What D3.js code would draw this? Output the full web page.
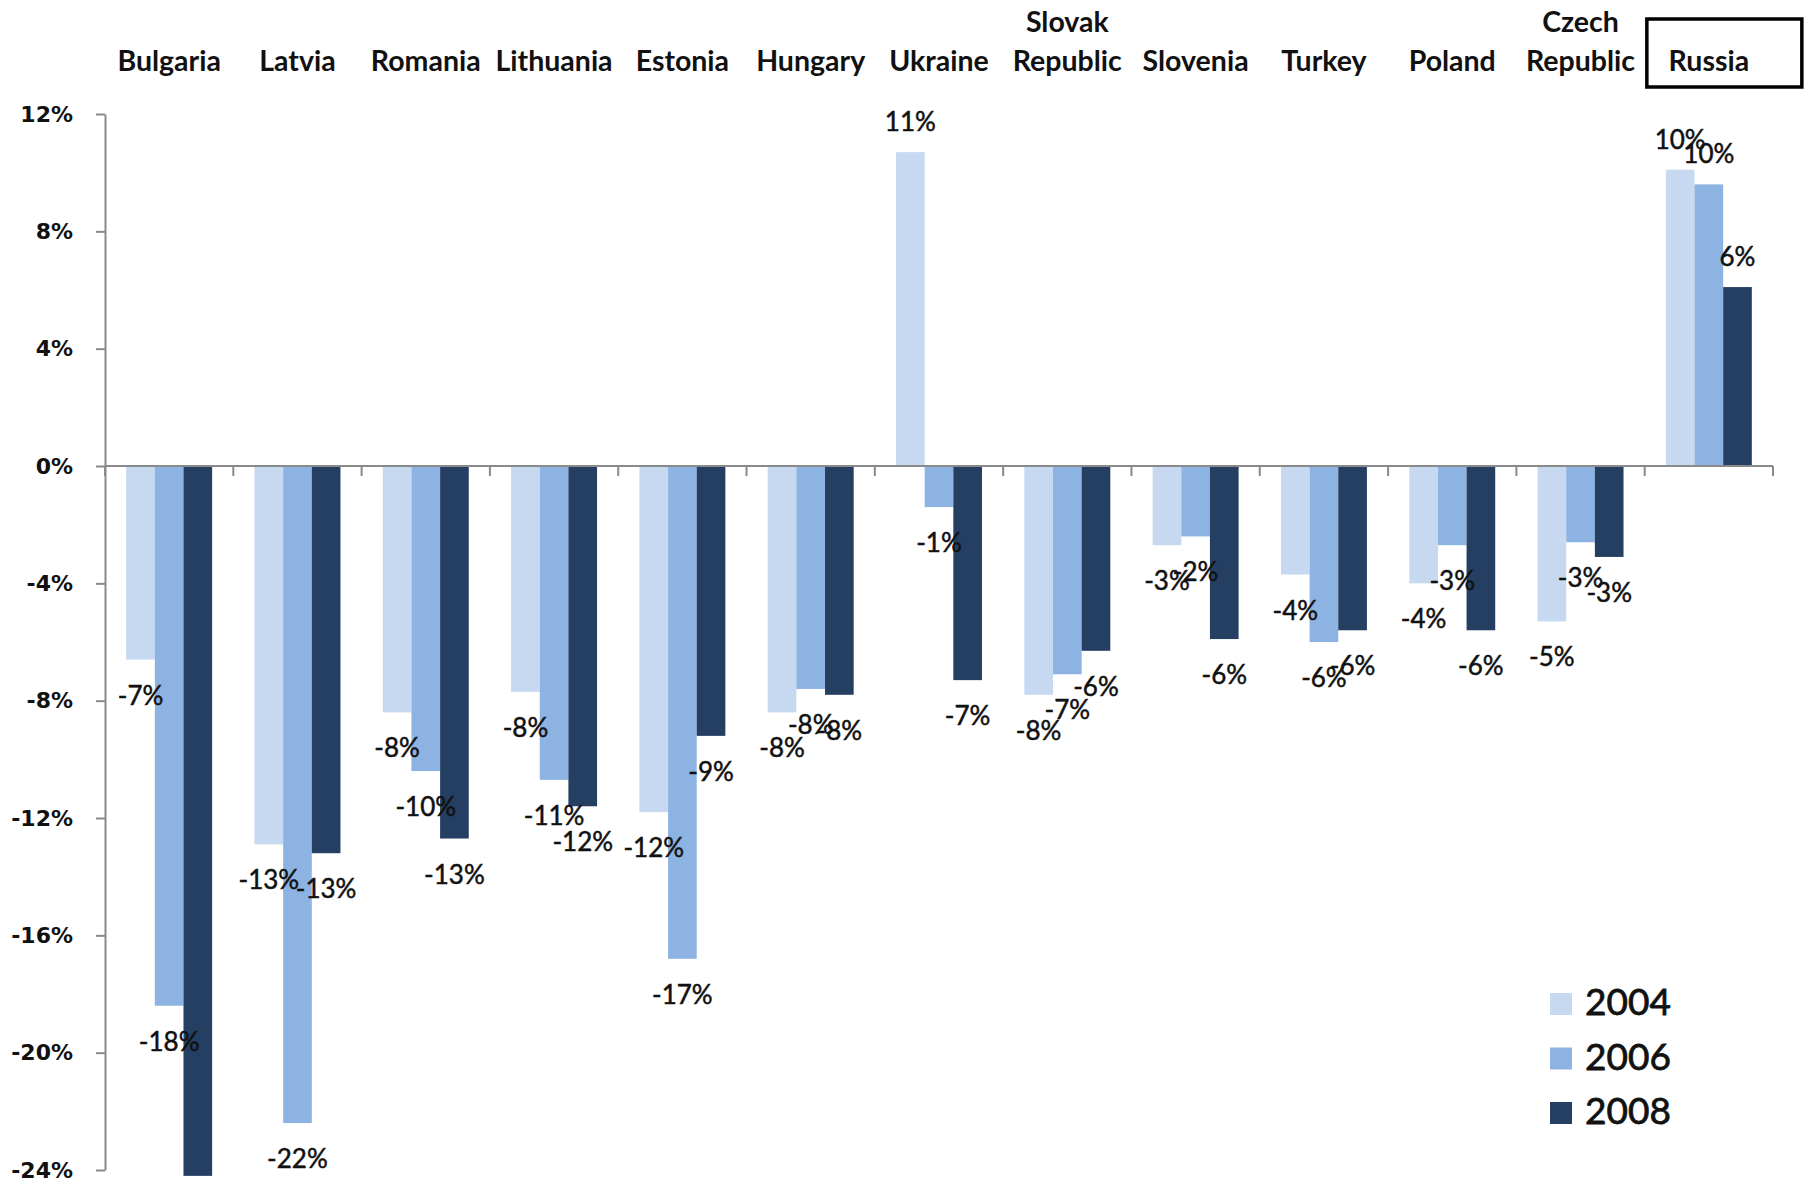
<!DOCTYPE html>
<html>
<head>
<meta charset="utf-8">
<script src="https://cdn.jsdelivr.net/npm/d3@7"></script>
<style>
  html, body { margin: 0; padding: 0; background: #ffffff; }
  svg { display: block; }
</style>
</head>
<body>
<svg id="chart" width="1810" height="1188"></svg>
<script>
// Change in values by country, 2004 / 2006 / 2008 (percent)
const categories = ["Bulgaria", "Latvia", "Romania", "Lithuania", "Estonia", "Hungary", "Ukraine",
  "Slovak Republic", "Slovenia", "Turkey", "Poland", "Czech Republic", "Russia"];
const categoryLines = [["Bulgaria"], ["Latvia"], ["Romania"], ["Lithuania"], ["Estonia"], ["Hungary"], ["Ukraine"],
  ["Slovak", "Republic"], ["Slovenia"], ["Turkey"], ["Poland"], ["Czech", "Republic"], ["Russia"]];
const years = ["2004", "2006", "2008"];
const values2004 = [-6.6, -12.9, -8.4, -7.7, -11.8, -8.4, 10.7, -7.8, -2.7, -3.7, -4.0, -5.3, 10.1];
const values2006 = [-18.4, -22.4, -10.4, -10.7, -16.8, -7.6, -1.4, -7.1, -2.4, -6.0, -2.7, -2.6, 9.6];
const values2008 = [-24.2, -13.2, -12.7, -11.6, -9.2, -7.8, -7.3, -6.3, -5.9, -5.6, -5.6, -3.1, 6.1];
const yTicks = [12, 8, 4, 0, -4, -8, -12, -16, -20, -24];
const highlighted = "Russia";

const colors = { "2004": "#c6d9f1", "2006": "#8db3e2", "2008": "#243f61" };
const seriesValues = { "2004": values2004, "2006": values2006, "2008": values2008 };

const svg = d3.select("#chart");
const axisColor = "#8a8a8a";
const plotLeft = 105, plotRight = 1773;

const x0 = d3.scaleBand().domain(categories).range([plotLeft, plotRight])
  .paddingInner(0.33).paddingOuter(0.165);
const x1 = d3.scaleBand().domain(years).range([0, x0.bandwidth()]);
const y = d3.scaleLinear().domain([-24, 12]).range([1170, 114]);

const rows = categories.map((c, i) => ({
  category: c,
  bars: years.map(yr => ({ year: yr, value: seriesValues[yr][i] }))
}));

// bars
const groups = svg.append("g").selectAll("g").data(rows).join("g")
  .attr("transform", d => `translate(${x0(d.category)},0)`);

groups.selectAll("rect").data(d => d.bars).join("rect")
  .attr("x", d => x1(d.year))
  .attr("width", x1.bandwidth())
  .attr("y", d => y(Math.max(0, d.value)))
  .attr("height", d => Math.abs(y(d.value) - y(0)))
  .attr("fill", d => colors[d.year]);

// value labels
groups.selectAll("text").data(d => d.bars).join("text")
  .attr("x", d => x1(d.year) + x1.bandwidth() / 2)
  .attr("y", d => d.value >= 0 ? y(d.value) - 31 : y(d.value) + 35)
  .attr("text-anchor", "middle")
  .attr("dominant-baseline", "central")
  .attr("font-family", "Lato, 'Open Sans', sans-serif")
  .attr("font-size", 26)
  .attr("fill", "#111")
  .attr("stroke", "#111")
  .attr("stroke-width", 0.5)
  .text(d => `${Math.round(d.value)}%`);

// y axis
const yAxis = d3.axisLeft(y).tickValues(yTicks).tickSize(9).tickSizeOuter(0).tickPadding(23)
  .tickFormat(d => `${d}%`);
const yg = svg.append("g").attr("transform", `translate(${plotLeft},0)`).call(yAxis);
yg.select(".domain").attr("stroke", axisColor).attr("stroke-width", 2);
yg.selectAll(".tick line").attr("stroke", axisColor).attr("stroke-width", 2);
yg.selectAll(".tick text")
  .attr("font-family", "'DejaVu Sans', Verdana, sans-serif")
  .attr("font-weight", "bold")
  .attr("font-size", 22)
  .attr("fill", "#111");

// zero line with category boundary ticks
svg.append("line")
  .attr("x1", plotLeft).attr("x2", plotRight)
  .attr("y1", y(0)).attr("y2", y(0))
  .attr("stroke", axisColor).attr("stroke-width", 2);
const gap = (x0.step() - x0.bandwidth()) / 2;
const boundaries = categories.map(c => x0(c) - gap).concat([x0(categories[categories.length - 1]) + x0.bandwidth() + gap]);
svg.append("g").selectAll("line").data(boundaries).join("line")
  .attr("x1", d => d).attr("x2", d => d)
  .attr("y1", y(0)).attr("y2", y(0) + 10)
  .attr("stroke", axisColor).attr("stroke-width", 2);

// category names along the top
const catG = svg.append("g").selectAll("text").data(categories).join("text")
  .attr("text-anchor", "middle")
  .attr("font-family", "Lato, 'Open Sans', sans-serif")
  .attr("font-weight", "bold")
  .attr("font-size", 28.5)
  .attr("fill", "#111");
catG.each(function (c, i) {
  const lines = categoryLines[i];
  const cx = x0(c) + x0.bandwidth() / 2;
  d3.select(this).selectAll("tspan").data(lines).join("tspan")
    .attr("x", cx)
    .attr("y", (d, j) => 71 - (lines.length - 1 - j) * 39)
    .text(d => d);
});

// frame around the highlighted country
const hx = x0(highlighted) + x0.bandwidth() / 2;
svg.append("rect")
  .attr("x", hx - 62).attr("y", 19)
  .attr("width", 155).attr("height", 68)
  .attr("fill", "none").attr("stroke", "#000").attr("stroke-width", 3.5);

// legend
const legend = svg.append("g").attr("transform", "translate(1550,993)");
const li = legend.selectAll("g").data(years).join("g")
  .attr("transform", (d, i) => `translate(0,${i * 54.5})`);
li.append("rect").attr("width", 22).attr("height", 22).attr("fill", d => colors[d]);
li.append("text")
  .attr("x", 35).attr("y", 22)
  .attr("font-family", "Lato, 'Open Sans', sans-serif")
  .attr("font-size", 37)
  .attr("fill", "#111")
  .attr("stroke", "#111")
  .attr("stroke-width", 0.8)
  .text(d => d);
</script>
</body>
</html>
